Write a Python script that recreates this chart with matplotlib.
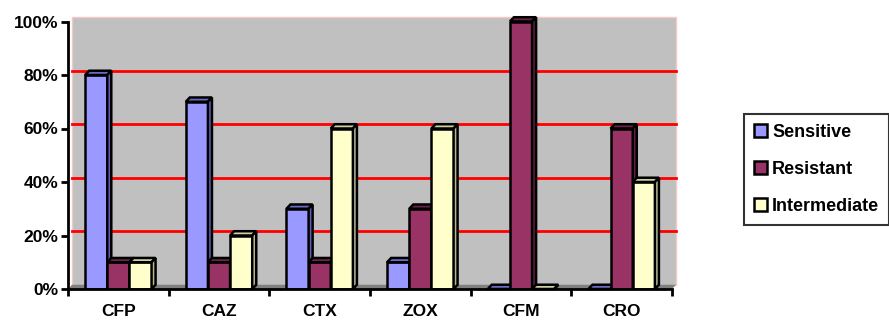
import matplotlib.pyplot as plt
from matplotlib.patches import Polygon, Rectangle

drugs = ["CFP", "CAZ", "CTX", "ZOX", "CFM", "CRO"]
sensitive = [0.80, 0.70, 0.30, 0.10, 0.00, 0.00]
resistant = [0.10, 0.10, 0.10, 0.30, 1.00, 0.60]
intermediate = [0.10, 0.20, 0.60, 0.60, 0.00, 0.40]
series = ["Sensitive", "Resistant", "Intermediate"]
yticks = [0, 0.2, 0.4, 0.6, 0.8, 1.0]

# front, top, side colours per series
faces = [("#9999FF", "#6B6BC8", "#6060B8"),
         ("#993366", "#6A2347", "#5E1F40"),
         ("#FFFFCC", "#CFCFA0", "#B8B890")]

plt.rcParams['font.family'] = ['Liberation Sans', 'DejaVu Sans']
plt.rcParams['font.weight'] = 'bold'

fig = plt.figure(figsize=(8.89, 3.2), dpi=100)
ax = fig.add_axes([68 / 889, 31 / 320, 604 / 889, 267.5 / 320])
ax.set_xlim(0, 6)
ax.set_ylim(0, 1)
ax.set_facecolor("none")

dx, dy = 0.04, 0.016  # 3d depth in data units
bw = 0.22

# back wall, floor and gridlines
ax.add_patch(Rectangle((dx, dy), 6, 1, facecolor="#C0C0C0", edgecolor="#F4C8C8",
                       lw=1, zorder=0, clip_on=False))
ax.add_patch(Polygon([(0, 0), (6, 0), (6 + dx, dy), (dx, dy)], closed=True,
                     facecolor="#808080", edgecolor="none", zorder=0.5, clip_on=False))
for v in yticks[1:-1]:
    ax.plot([dx, 6 + dx], [v + dy, v + dy], color="red", lw=2, zorder=1, clip_on=False)

for k, vals in enumerate([sensitive, resistant, intermediate]):
    front, top, side = faces[k]
    for i, v in enumerate(vals):
        x0 = i + 0.5 - 1.5 * bw + k * bw
        ax.add_patch(Rectangle((x0, 0), bw, v, facecolor=front, edgecolor="black",
                               lw=1.8, zorder=3 + k))
        ax.add_patch(Polygon([(x0, v), (x0 + dx, v + dy), (x0 + bw + dx, v + dy), (x0 + bw, v)],
                             closed=True, facecolor=top, edgecolor="black", lw=1.8,
                             zorder=3 + k, clip_on=False))
        ax.add_patch(Polygon([(x0 + bw, 0), (x0 + bw + dx, dy), (x0 + bw + dx, v + dy), (x0 + bw, v)],
                             closed=True, facecolor=side, edgecolor="black", lw=1.8,
                             zorder=3 + k, clip_on=False))

for s in ["top", "right"]:
    ax.spines[s].set_visible(False)
for s in ["left", "bottom"]:
    ax.spines[s].set_linewidth(2)
    ax.spines[s].set_zorder(10)

ax.set_yticks(yticks)
ax.set_yticklabels([f"{int(t * 100)}%" for t in yticks], fontsize=12.5, fontweight="bold")
ax.set_xticks(range(7))
ax.set_xticklabels([])
ax.set_xticks([i + 0.5 for i in range(6)], minor=True)
ax.set_xticklabels(drugs, minor=True, fontsize=12.5, fontweight="bold")
ax.tick_params(axis="x", which="minor", length=0, pad=11)
ax.tick_params(axis="both", which="major", width=2, length=5, direction="out")
ax.tick_params(axis="y", pad=2)

handles = [Rectangle((0, 0), 1, 1, facecolor=f[0], edgecolor="black", lw=1.8) for f in faces]
leg = fig.legend(handles, series, loc="upper left", bbox_to_anchor=(744 / 889, 1 - 114 / 320),
                 frameon=True, fancybox=False, edgecolor="black", fontsize=13,
                 handlelength=0.7, handleheight=0.7, handletextpad=0.3,
                 labelspacing=1.1, borderpad=0.55, borderaxespad=0)
leg.get_frame().set_linewidth(1.5)
for t in leg.get_texts():
    t.set_fontweight("bold")

fig.savefig("out.png", dpi=100)
